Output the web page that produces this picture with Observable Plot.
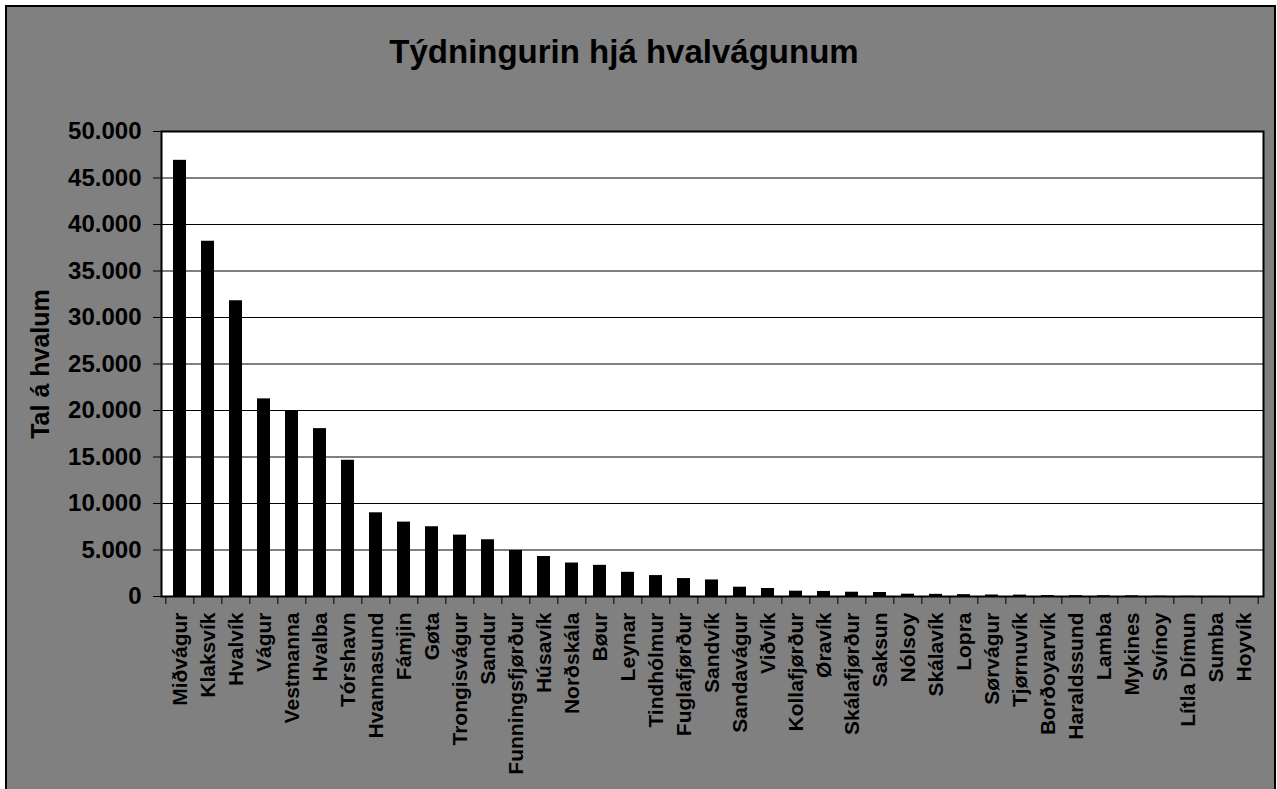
<!DOCTYPE html>
<html><head><meta charset="utf-8">
<script src="https://cdn.jsdelivr.net/npm/d3@7"></script>
<script src="https://cdn.jsdelivr.net/npm/@observablehq/plot@0.6"></script>
<style>
html,body{margin:0;padding:0;background:#fff;overflow:hidden}
#chart{position:absolute;left:5px;top:5px;width:1267px;height:820px;border:2px solid #000;background:#808080;font-family:"Liberation Sans",Arial,sans-serif;}
#chart svg{position:absolute;left:0;top:0}
#title{position:absolute;top:28px;left:617px;transform:translateX(-50%);white-space:nowrap;font-size:33px;font-weight:bold;line-height:33px;color:#000;z-index:2}
</style></head><body>
<div id="chart"><div id="title">Týdningurin hjá hvalvágunum</div></div>
<script>
const categories = ["Miðvágur","Klaksvík","Hvalvík","Vágur","Vestmanna","Hvalba","Tórshavn","Hvannasund","Fámjin","Gøta","Trongisvágur","Sandur","Funningsfjørður","Húsavík","Norðskála","Bøur","Leynar","Tindhólmur","Fuglafjørður","Sandvík","Sandavágur","Viðvík","Kollafjørður","Øravík","Skálafjørður","Saksun","Nólsoy","Skálavík","Lopra","Sørvágur","Tjørnuvík","Borðoyarvík","Haraldssund","Lamba","Mykines","Svínoy","Lítla Dímun","Sumba","Hoyvík"];
const values = [46900,38200,31800,21250,19900,18050,14650,9000,8000,7500,6600,6100,4950,4300,3600,3350,2600,2250,1930,1780,1000,860,570,540,460,430,250,230,200,160,150,100,90,80,70,30,20,10,5];
const yTicks = [0,5000,10000,15000,20000,25000,30000,35000,40000,45000,50000];
const yLabel = "Tal á hvalum";

const data = categories.map((name, i) => ({name, value: values[i]}));
const fmt = d => d3.format(",")(d).replace(/,/g, ".");

const W = 1267, H = 813, ML = 154, MR = 11, MT = 124, MB = H - 589;
const step = (W - ML - MR) / categories.length;

const chart = Plot.plot({
  width: W, height: H,
  marginLeft: ML, marginRight: MR, marginTop: MT, marginBottom: MB,
  style: {background: "transparent", color: "black", fontFamily: "'Liberation Sans', Arial, sans-serif", fontWeight: "bold"},
  x: {domain: categories, paddingInner: 0.53, paddingOuter: 0.265},
  y: {domain: [0, 50000]},
  marks: [
    Plot.frame({fill: "white", stroke: "none"}),
    Plot.ruleY(yTicks.slice(1), {stroke: "black", strokeWidth: 1}),
    Plot.barY(data, {x: "name", y: "value", fill: "black"}),
    Plot.frame({stroke: "black", strokeWidth: 2}),
    Plot.ruleX(categories, {x: d => d, y1: 0, y2: 0, dx: -step / 2, insetBottom: -8, stroke: "black", strokeWidth: 1}),
    Plot.ruleX(categories.slice(-1), {x: d => d, y1: 0, y2: 0, dx: step / 2, insetBottom: -8, stroke: "black", strokeWidth: 1}),
    Plot.axisY({ticks: yTicks, tickSize: 8, tickPadding: 12, tickFormat: fmt, fontSize: 24, fontWeight: "bold", label: null}),
    Plot.axisX({tickRotate: -90, tickSize: 0, tickPadding: 16, fontSize: 21, fontWeight: "bold", label: null}),
    Plot.text([yLabel], {frameAnchor: "left", text: d => d, rotate: -90, textAnchor: "middle", lineAnchor: "middle", dx: -121, fontSize: 25, fontWeight: "bold", fill: "black"})
  ]
});
document.getElementById("chart").appendChild(chart);
</script>
</body></html>
